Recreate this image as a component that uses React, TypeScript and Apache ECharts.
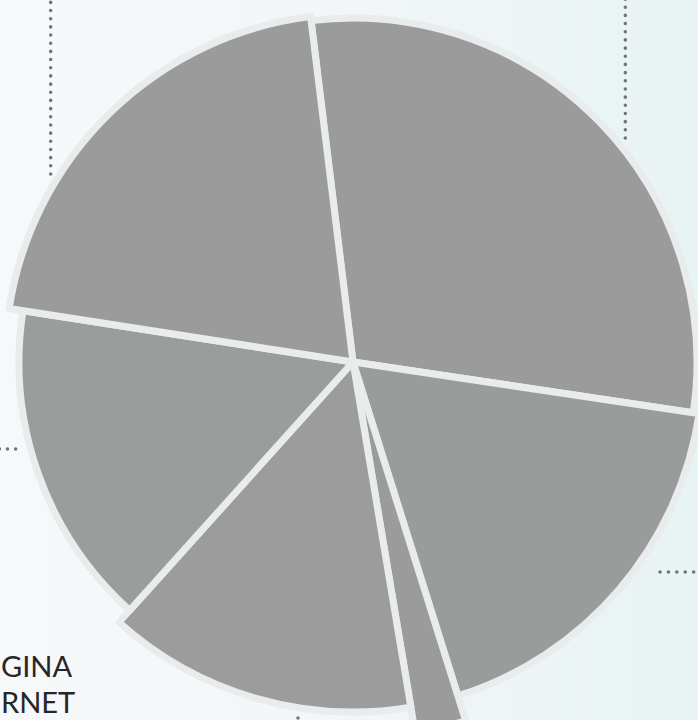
import React, { useEffect, useRef } from "react";
import * as echarts from "echarts";

// Slices, listed clockwise starting at the top boundary
const categories = ["Segmento 1", "Segmento 2", "Segmento 3", "Segmento 4", "Segmento 5", "Segmento 6"];
const values = [29.3, 17.8, 2.2, 14.3, 15.8, 20.6];
// visible (cropped) caption text
const textLines = ["GINA", "RNET"];

// styles
const sliceRadius = [344, 350, 376, 350, 334, 348];
const sliceColors = ["#9b9b9b", "#9a9b9b", "#9b9b9b", "#9c9c9c", "#9b9c9c", "#9b9b9b"];
const gapColor = "#e8ecec";
const dotColor = "#727477";

export default function App() {
  const ref = useRef<HTMLDivElement>(null);
  useEffect(() => {
    if (!ref.current) return;
    const chart = echarts.init(ref.current, undefined, { renderer: "svg" });
    const series = values.map((_, i) => ({
      type: "pie",
      center: [353, 362],
      radius: [0, sliceRadius[i]],
      startAngle: 97,
      clockwise: true,
      silent: true,
      z: 2,
      label: { show: false },
      labelLine: { show: false },
      emphasis: { disabled: true },
      data: categories.map((name, j) => ({
        name,
        value: values[j],
        itemStyle:
          j === i
            ? { color: sliceColors[i], borderColor: gapColor, borderWidth: 7 }
            : { color: "rgba(0,0,0,0)", borderWidth: 0 },
      })),
    }));
    const dotStyle = {
      stroke: dotColor,
      lineWidth: 3.5,
      lineDash: [0.1, 8.07],
      lineCap: "round",
    };
    const textStyle = {
      fill: "#262626",
      font: "400 29px Lato",
      textAlign: "left",
      textVerticalAlign: "middle",
    };
    chart.setOption({
      animation: false,
      backgroundColor: "transparent",
      series,
      graphic: [
        { type: "line", shape: { x1: 50.7, y1: 174, x2: 50.7, y2: -4 }, style: dotStyle, z: 10 },
        { type: "line", shape: { x1: 625.3, y1: 138, x2: 625.3, y2: -4 }, style: dotStyle, z: 10 },
        { type: "line", shape: { x1: 15.7, y1: 449, x2: -10, y2: 449 }, style: dotStyle, z: 10 },
        { type: "line", shape: { x1: 660, y1: 572, x2: 694, y2: 572 }, style: { ...dotStyle, lineDash: [0.1, 8.3] }, z: 10 },
        { type: "line", shape: { x1: 298, y1: 718, x2: 298, y2: 740 }, style: dotStyle, z: 10 },
        { type: "text", x: 1, y: 665, z: 10, style: { ...textStyle, text: textLines[0] } },
        { type: "text", x: 1, y: 701.5, z: 10, style: { ...textStyle, text: textLines[1] } },
      ],
    });
    return () => chart.dispose();
  }, []);
  return (
    <div
      ref={ref}
      style={{
        position: "fixed",
        left: 0,
        top: 0,
        width: 698,
        height: 720,
        background:
          "linear-gradient(90deg, #f7f8fa 0%, #f3f6f8 45%, #e8f3f4 100%)",
      }}
    />
  );
}
